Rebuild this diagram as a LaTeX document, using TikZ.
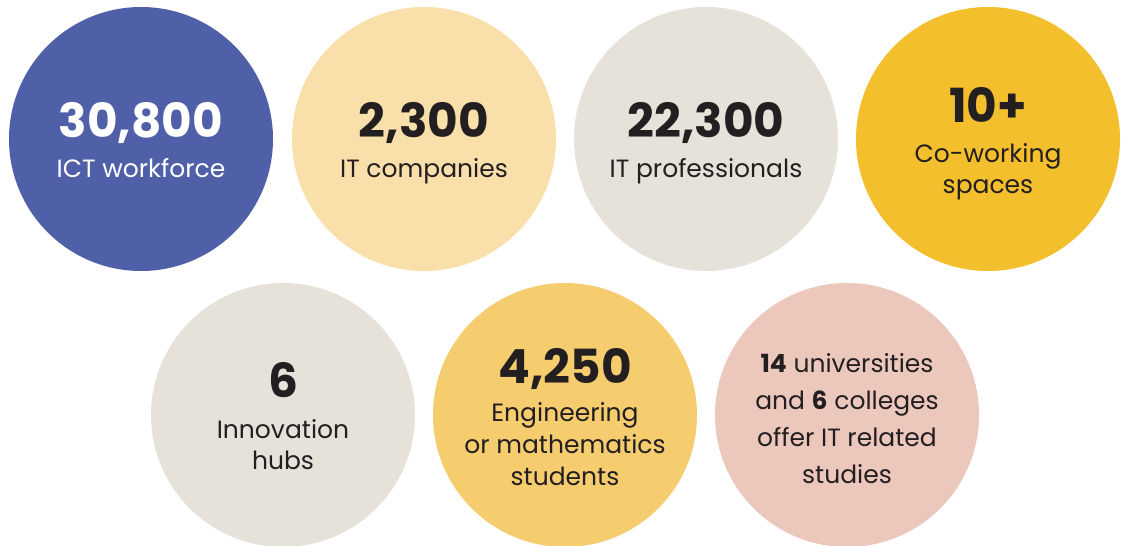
\documentclass[tikz,border=0pt]{standalone}
\usepackage{fontspec}
\setmainfont{Poppins}
\definecolor{ictblue}{HTML}{5060A8}
\definecolor{paleyellow}{HTML}{F9E0AA}
\definecolor{stone}{HTML}{E6E2DA}
\definecolor{sun}{HTML}{F3BF2C}
\definecolor{honey}{HTML}{F5CD6E}
\definecolor{rose}{HTML}{ECC7BC}
\definecolor{ink}{HTML}{231F20}
\tikzset{
    disc/.style={circle,minimum size=264pt,inner sep=0pt,draw=none},
    num/.style={anchor=base,text=ink,font=\fontsize{47}{52}\selectfont\bfseries},
    lbl/.style={anchor=base,text=ink,align=center,font=\fontsize{25}{31}\selectfont}
}
\begin{document}
\begin{tikzpicture}[x=1pt,y=-1pt]
        \useasboundingbox (0,0) rectangle (1127,546);
        % top row
        \node[disc,fill=ictblue] (ict) at (141,139) {};
        \node[disc,fill=paleyellow] (comp) at (424,139) {};
        \node[disc,fill=stone] (prof) at (706,139) {};
        \node[disc,fill=sun] (cowork) at (988,139) {};
        % bottom row
        \node[disc,fill=stone] (hubs) at (283,415) {};
        \node[disc,fill=honey] (stud) at (565,415) {};
        \node[disc,fill=rose] (univ) at (847,415) {};
        % figures and captions (multi-line captions sit on their last line)
        \node[num,text=white] (ictnum) at (141,137) {30,800};
        \node[lbl,text=white] (ictlbl) at (141,177) {ICT workforce};
        \node[num] (compnum) at (424,137) {2,300};
        \node[lbl] (complbl) at (424,177) {IT companies};
        \node[num] (profnum) at (706,137) {22,300};
        \node[lbl] (proflbl) at (706,177) {IT professionals};
        \node[num] (coworknum) at (988,122) {10+};
        \node[lbl] (coworklbl) at (988,193) {Co-working\\spaces};
        \node[num] (hubsnum) at (283,397) {6};
        \node[lbl] (hubslbl) at (283,469) {Innovation\\hubs};
        \node[num] (studnum) at (565,383) {4,250};
        \node[lbl,font=\fontsize{25}{32}\selectfont] (studlbl) at (565,485) {Engineering\\or mathematics\\students};
        \node[lbl,font=\fontsize{25}{37}\selectfont] (univlbl) at (847,483)
            {\textbf{14} universities\\and \textbf{6} colleges\\offer IT related\\studies};
    \end{tikzpicture}
\end{document}
